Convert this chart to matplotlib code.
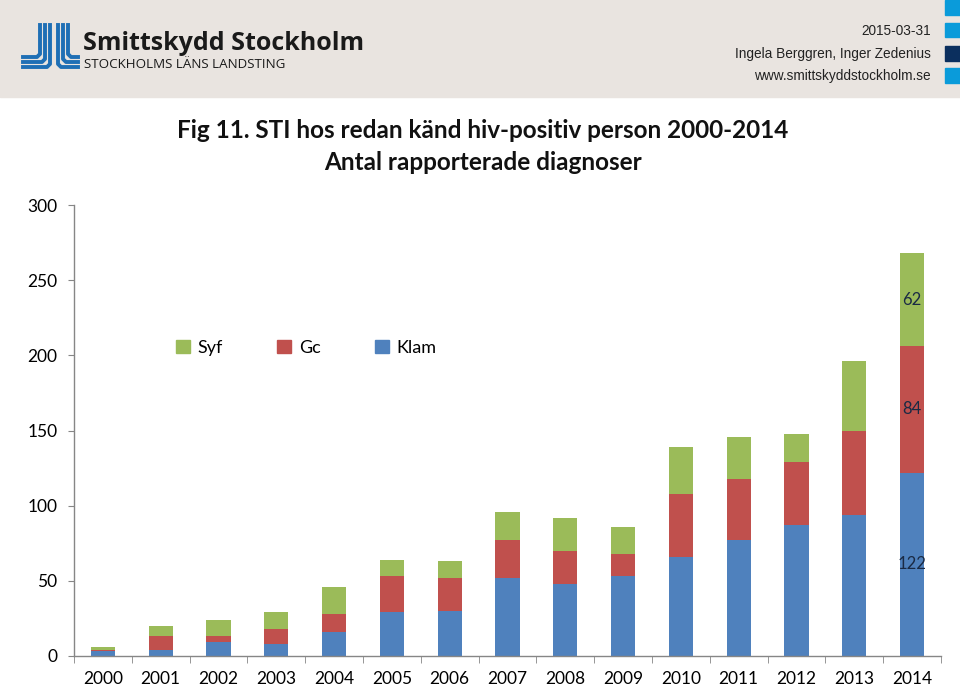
import matplotlib.pyplot as plt
import matplotlib.patches as patches
from matplotlib.lines import Line2D
import numpy as np

# data
years = ['2000', '2001', '2002', '2003', '2004', '2005', '2006', '2007',
         '2008', '2009', '2010', '2011', '2012', '2013', '2014']
klam = [3, 4, 9, 8, 16, 29, 30, 52, 48, 53, 66, 77, 87, 94, 122]
gc = [1, 9, 4, 10, 12, 24, 22, 25, 22, 15, 42, 41, 42, 56, 84]
syf = [2, 7, 11, 11, 18, 11, 11, 19, 22, 18, 31, 28, 19, 46, 62]
y_ticks = [0, 50, 100, 150, 200, 250, 300]

c_klam = '#4F81BD'
c_gc = '#C0504D'
c_syf = '#9BBB59'

plt.rcParams['font.family'] = ['Lato', 'DejaVu Sans']

fig = plt.figure(figsize=(9.6, 6.86), dpi=100)
W, H = 960, 686


def fx(px):
    return px / W


def fy(py):
    return 1 - py / H


# header band
fig.patches.append(patches.Rectangle((0, fy(97)), 1, 97 / H, transform=fig.transFigure,
                                     color='#E9E4E0', zorder=0))
# blue squares at right edge
for top, bot, col in [(0, 15, '#0A9BDA'), (23, 37, '#0A9BDA'), (46, 61, '#0B2F5E'), (68, 83, '#0A9BDA')]:
    fig.patches.append(patches.Rectangle((fx(945), fy(bot)), fx(15), (bot - top) / H,
                                         transform=fig.transFigure, color=col, zorder=1))

# logo: two groups of three lines bending outwards
logo_col = '#1F6FB5'
for k in range(3):
    xv = 40 + 5 * k
    yb = 57 + 5 * k
    fig.lines.append(Line2D([fx(xv), fx(xv), fx(xv - 3), fx(23)],
                            [fy(25), fy(yb - 3), fy(yb), fy(yb)],
                            transform=fig.transFigure, color=logo_col, lw=2.8,
                            solid_joinstyle='round'))
    xv = 68 - 5 * k
    fig.lines.append(Line2D([fx(xv), fx(xv), fx(xv + 3), fx(78)],
                            [fy(25), fy(yb - 3), fy(yb), fy(yb)],
                            transform=fig.transFigure, color=logo_col, lw=2.8,
                            solid_joinstyle='round'))

fig.text(fx(83), fy(43), 'Smittskydd Stockholm', fontsize=18, fontweight='bold',
         color='#1a1a1a', va='center', ha='left', family=['Open Sans', 'DejaVu Sans'])
fig.text(fx(84), fy(64), 'STOCKHOLMS LÄNS LANDSTING', fontsize=9.6, color='#1a1a1a',
         va='center', ha='left', family=['Open Sans', 'DejaVu Sans'])

fig.text(fx(931), fy(31), '2015-03-31', fontsize=9.8, color='#222222', ha='right', va='center',
         family=['Liberation Sans', 'DejaVu Sans'])
fig.text(fx(931), fy(54), 'Ingela Berggren, Inger Zedenius', fontsize=9.8, color='#222222',
         ha='right', va='center', family=['Liberation Sans', 'DejaVu Sans'])
fig.text(fx(931), fy(76), 'www.smittskyddstockholm.se', fontsize=9.8, color='#222222',
         ha='right', va='center', family=['Liberation Sans', 'DejaVu Sans'])

# titles
fig.text(fx(483), fy(130), 'Fig 11. STI hos redan känd hiv-positiv person 2000-2014',
         fontsize=17.5, fontweight='bold', ha='center', va='center', color='#111111')
fig.text(fx(483), fy(162), 'Antal rapporterade diagnoser',
         fontsize=17.5, fontweight='bold', ha='center', va='center', color='#111111')

# chart
ax = fig.add_axes([fx(74), fy(656), fx(941) - fx(74), (656 - 205) / H])
x = np.arange(len(years))
bw = 0.42
klam_a = np.array(klam)
gc_a = np.array(gc)
syf_a = np.array(syf)
ax.bar(x, klam_a, bw, color=c_klam, label='Klam', zorder=2)
ax.bar(x, gc_a, bw, bottom=klam_a, color=c_gc, label='Gc', zorder=2)
ax.bar(x, syf_a, bw, bottom=klam_a + gc_a, color=c_syf, label='Syf', zorder=2)

# data labels on last bar
i = len(years) - 1
lab_col = '#1a2a44'
ax.text(x[i], klam_a[i] / 2, str(klam[i]), ha='center', va='center', fontsize=12, color=lab_col)
ax.text(x[i], klam_a[i] + gc_a[i] / 2, str(gc[i]), ha='center', va='center', fontsize=12, color=lab_col)
ax.text(x[i], klam_a[i] + gc_a[i] + syf_a[i] / 2, str(syf[i]), ha='center', va='center',
        fontsize=12, color=lab_col)

ax.set_xlim(-0.5, len(years) - 0.5)
ax.set_ylim(0, 300)
ax.set_yticks(y_ticks)
ax.set_yticklabels([str(v) for v in y_ticks])
ax.set_xticks(x)
ax.set_xticklabels(years)
ax.set_xticks(np.arange(-0.5, len(years), 1), minor=True)
ax.tick_params(axis='x', which='major', length=0, pad=10.5, labelsize=12.5)
ax.tick_params(axis='x', which='minor', length=5, color='#868686', direction='out')
ax.tick_params(axis='y', length=4, color='#868686', pad=8, labelsize=12.5)
for s in ['top', 'right']:
    ax.spines[s].set_visible(False)
for s in ['left', 'bottom']:
    ax.spines[s].set_color('#868686')
    ax.spines[s].set_linewidth(1)
ax.patch.set_alpha(0)

handles = [patches.Patch(color=c_syf), patches.Patch(color=c_gc), patches.Patch(color=c_klam)]
fig.legend(handles, ['Syf', 'Gc', 'Klam'], loc='center left', bbox_to_anchor=(fx(160), fy(348)),
           ncol=3, frameon=False, fontsize=13, handlelength=0.75, handleheight=0.75,
           columnspacing=3.0, handletextpad=0.45)

fig.savefig('out.png', dpi=100)
